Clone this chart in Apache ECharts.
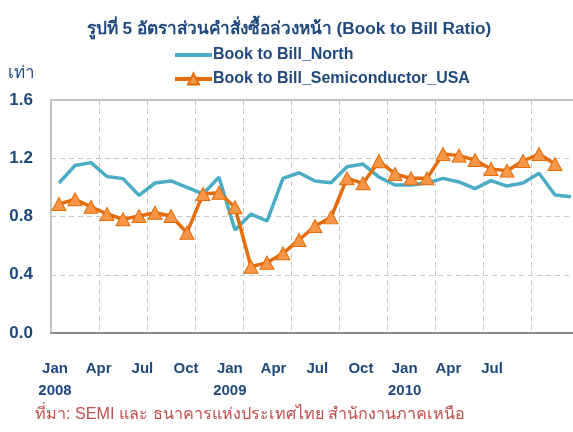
<!DOCTYPE html>
<html>
<head>
<meta charset="utf-8">
<script src="https://cdn.jsdelivr.net/npm/echarts@6/dist/echarts.min.js"></script>
<style>
html,body{margin:0;padding:0;background:#fff;}
#chart{width:573px;height:432px;}
</style>
</head>
<body>
<div id="chart"></div>
<script>
const categories = ['Jan 2008','Feb 2008','Mar 2008','Apr 2008','May 2008','Jun 2008','Jul 2008','Aug 2008','Sep 2008','Oct 2008','Nov 2008','Dec 2008',
  'Jan 2009','Feb 2009','Mar 2009','Apr 2009','May 2009','Jun 2009','Jul 2009','Aug 2009','Sep 2009','Oct 2009','Nov 2009','Dec 2009',
  'Jan 2010','Feb 2010','Mar 2010','Apr 2010','May 2010','Jun 2010','Jul 2010','Aug 2010','Sep 2010'];
const tickLabels = ['Jan\n2008','','','Apr','','','Jul','','','Oct','','',
  'Jan\n2009','','','Apr','','','Jul','','','Oct','','',
  'Jan\n2010','','','Apr','','','Jul','',''];
const northValues = [1.03,1.15,1.17,1.075,1.06,0.945,1.03,1.044,1.0,0.955,1.07,0.707,
  0.817,0.769,1.062,1.10,1.044,1.032,1.142,1.16,1.07,1.016,1.016,1.03,
  1.062,1.037,0.991,1.046,1.009,1.03,1.097,0.948,0.936];
const usaValues = [0.886,0.918,0.867,0.817,0.781,0.803,0.826,0.803,0.689,0.954,0.963,0.863,
  0.455,0.483,0.547,0.639,0.735,0.794,1.062,1.028,1.18,1.092,1.062,1.062,
  1.229,1.218,1.188,1.126,1.115,1.181,1.229,1.16,null];
const yTicks = {min:0, max:1.6, interval:0.4};

const navy = '#1F497D';
const font = 'Liberation Sans, Arial, sans-serif';
const chart = echarts.init(document.getElementById('chart'), null, {renderer:'canvas'});
chart.setOption({
  animation:false,
  backgroundColor:'#fff',
  title:{
    text:'รูปที่ 5 อัตราส่วนคำสั่งซื้อล่วงหน้า (Book to Bill Ratio)',
    left:289, top:21, textAlign:'center', padding:0,
    textStyle:{color:navy, fontSize:17.2, fontWeight:'bold', fontFamily:font}
  },
  legend:{
    orient:'vertical', left:173, top:47, padding:0, itemWidth:37, itemHeight:14, itemGap:8,
    lineStyle:{width:4},
    textStyle:{color:navy, fontSize:16, fontWeight:'bold', fontFamily:font, padding:[0,0,0,-4]},
    data:[
      {name:'Book to Bill_North', itemStyle:{opacity:0}},
      {name:'Book to Bill_Semiconductor_USA'}
    ]
  },
  graphic:[
    {type:'text', left:8, top:65, style:{text:'เท่า', fill:navy, fontSize:17, fontFamily:font}},
    {type:'text', left:35, top:407, style:{text:'ที่มา: SEMI และ ธนาคารแห่งประเทศไทย สำนักงานภาคเหนือ', fill:'#C0504D', fontSize:16.2, fontFamily:font}}
  ],
  grid:[
    {left:51, top:100, width:528, height:233, outerBoundsMode:'none', containLabel:false},
    {left:47.7, top:100, width:480.8, height:233, outerBoundsMode:'none', containLabel:false}
  ],
  xAxis:[
    {type:'category', gridIndex:0, data:categories, boundaryGap:true,
     axisLine:{lineStyle:{color:'#8c8c8c', width:2}},
     axisTick:{show:false},
     axisLabel:{show:false},
     splitLine:{show:true, interval:2, lineStyle:{color:'#c8c8c8', type:[5,4], width:1}}
    },
    {type:'category', gridIndex:1, data:tickLabels, boundaryGap:true,
     axisLine:{show:false}, axisTick:{show:false}, splitLine:{show:false},
     axisLabel:{interval:2, color:navy, fontSize:15, fontWeight:'bold', lineHeight:22, margin:25, fontFamily:font}
    },
    {type:'category', gridIndex:0, position:'top', data:categories, boundaryGap:true,
     axisLine:{show:true, lineStyle:{color:'#c4c4c4', width:2}},
     axisTick:{show:false}, axisLabel:{show:false}, splitLine:{show:false}
    }
  ],
  yAxis:[
    {type:'value', gridIndex:0, min:yTicks.min, max:yTicks.max, interval:yTicks.interval,
     axisLine:{show:true, lineStyle:{color:'#c4c4c4', width:2}},
     axisTick:{show:false},
     axisLabel:{color:navy, fontSize:17, fontWeight:'bold', margin:18,
       formatter:v=>v.toFixed(1), fontFamily:font},
     splitLine:{lineStyle:{color:'#c8c8c8', type:[5,4], width:1}}
    },
    {type:'value', gridIndex:1, show:false, min:0, max:1.6}
  ],
  series:[
    {name:'Book to Bill_North', type:'line', xAxisIndex:0, yAxisIndex:0, data:northValues,
     showSymbol:false, symbol:'none', lineStyle:{color:'#4BACC6', width:3.5}, itemStyle:{color:'#4BACC6'}, z:2},
    {name:'Book to Bill_Semiconductor_USA', type:'line', xAxisIndex:0, yAxisIndex:0, data:usaValues,
     symbol:'triangle', symbolSize:[14,13], showSymbol:true, showAllSymbol:true,
     lineStyle:{color:'#E46C0A', width:3.5},
     itemStyle:{color:'#F79646', borderColor:'#E46C0A', borderWidth:1}, z:3}
  ]
});
</script>
</body>
</html>
